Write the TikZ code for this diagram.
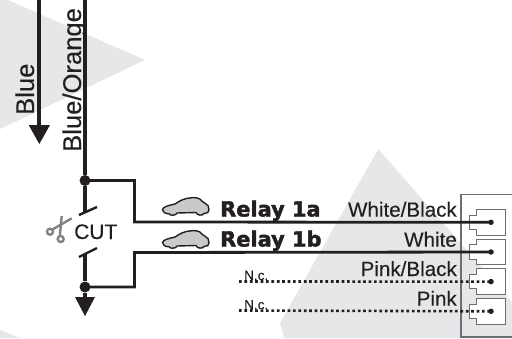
\documentclass[tikz,border=0pt]{standalone}
\usepackage{fontspec}
\setmainfont[FakeBold=0.25]{Liberation Sans}
\newfontfamily\relayfont[FakeBold=2]{DejaVu Sans Bold}
\definecolor{ink}{HTML}{231F20}
\definecolor{bggray}{HTML}{E6E7E8}
\definecolor{carfill}{HTML}{C8C9CB}
\definecolor{midgray}{HTML}{6D6E71}
\definecolor{scissor}{HTML}{808285}
\newcommand{\carshape}[1]{%
  \draw[carline,shift={(150,#1)}]
    (12.5,29.5) .. controls (13,27) and (18,25.5) .. (25,24)
    .. controls (30,20.5) and (35,18) .. (42,17.7)
    .. controls (46,17.5) and (48,18) .. (50,19)
    .. controls (52,21) and (53,22.5) .. (55,23.2)
    .. controls (58,24) and (59,27) .. (59,30)
    .. controls (59,32.5) and (57,33.5) .. (54,33.5)
    .. controls (53,35.8) and (47,35.8) .. (46,32.5)
    -- (27,33)
    .. controls (26,35.8) and (20,35.8) .. (19,33.8)
    .. controls (15,33.8) and (12.5,32) .. (12.5,29.5) -- cycle;}
\newcommand{\jackshape}[2]{%
  \draw[jackline] (505.7,#1) -- (476,#1) -- (476,#1+5.8) -- (469.5,#1+5.8)
    -- (469.5,#1+20) -- (476,#1+20) -- (476,#1+25.8) -- (505.7,#1+25.8) -- cycle;
  \coordinate (#2) at (491,#1+13);}
\tikzset{
  x=1pt,y=-1pt,
  bgshape/.style={fill=bggray,draw=none},
  wire/.style={draw=ink,line width=3.6pt},
  thinwire/.style={draw=ink,line width=2.8pt,line join=miter},
  dotwire/.style={draw=ink,line width=2.6pt,dash pattern=on 2.7pt off 2.7pt},
  contact/.style={draw=ink,line width=2.4pt},
  headtip/.style={fill=ink,draw=none},
  junction/.style={circle,fill=ink,draw=none,minimum size=11pt,inner sep=0pt},
  pindot/.style={circle,fill=ink,draw=none,minimum size=5.5pt,inner sep=0pt},
  carline/.style={fill=carfill,draw=ink,line width=1.4pt},
  jackline/.style={fill=white,draw=midgray,line width=1pt},
  wirelabel/.style={anchor=base east,inner sep=0pt,text=ink,font=\fontsize{20.6}{20}\selectfont},
  sidelabel/.style={anchor=base west,rotate=90,inner sep=0pt,text=ink,font=\fontsize{25.6}{25.6}\selectfont},
  relaylabel/.style={anchor=base west,inner sep=0pt,text=ink,font=\relayfont\fontsize{20.9}{21}\selectfont},
  nclabel/.style={anchor=base west,inner sep=0pt,text=ink,font=\fontsize{13.5}{14}\selectfont},
  scissorline/.style={draw=scissor,line width=2.4pt}
}
\begin{document}
\begin{tikzpicture}
\useasboundingbox (0,0) rectangle (512,338);
% background shapes
\fill[bgshape] (8,0) -- (145,60) -- (0,129) -- (0,0) -- cycle;
\fill[bgshape] (378.3,149) -- (280,323) -- (284,338) -- (512,338) -- (512,302) -- cycle;
\fill[bgshape] (0,330) -- (20,338) -- (0,338) -- cycle;
% connector housing
\draw[midgray,line width=1.2pt] (513,194.7) -- (461,194.7) -- (461,337) -- (513,337);
\jackshape{209.3}{pa}
\jackshape{239}{pb}
\jackshape{268.6}{pc}
\jackshape{298.3}{pd}
% terminals
\node[pindot] (pinA) at (pa) {};
\node[pindot] (pinB) at (pb) {};
\node[pindot] (pinC) at (pc) {};
\node[pindot] (pinD) at (pd) {};
% top wires
\coordinate (blueTop) at (39,-2);
\coordinate (blueEnd) at (39,126);
\coordinate (orangeTop) at (85,-2);
\draw[wire] (blueTop) -- (blueEnd);
\fill[headtip] (28.7,125) -- (50,125) -- (39.3,144) -- cycle;
\node[junction] (jTop) at (85,180.5) {};
\node[junction] (jBot) at (85,287) {};
\coordinate (contactTopL) at (79,215);
\coordinate (contactTopR) at (97,207);
\coordinate (contactBotL) at (79,257);
\coordinate (contactBotR) at (97,248);
\coordinate (contactTopMid) at (85,212);
\coordinate (contactBotMid) at (85,254);
\coordinate (downEnd) at (85,298);
\draw[wire] (orangeTop) -- (jTop) -- (contactTopMid);
\draw[wire] (contactBotMid) -- (jBot) -- (downEnd);
\draw[contact] (contactTopL) -- (contactTopR);
\draw[contact] (contactBotL) -- (contactBotR);
\fill[headtip] (75,297) -- (95,297) -- (85,316) -- cycle;
% branches
\draw[thinwire] (jTop.center) -| (134.5,222) -- (pinA.center);
\draw[thinwire] (jBot.center) -| (134.5,252.5) -- (pinB.center);
\coordinate (ncC) at (239,281.5);
\coordinate (ncD) at (239,310.5);
\draw[dotwire] (ncC) -- (pinC.center);
\draw[dotwire] (ncD) -- (pinD.center);
% cars
\carshape{180}
\carshape{213}
% scissors
\draw[scissorline] (50,231.7) circle (3);
\draw[scissorline] (60.7,239) circle (3);
\draw[scissorline] (52.5,229.5) -- (71.7,218.3);
\draw[scissorline] (59.8,236) -- (61.7,216);
% labels
\node[sidelabel] (tBlue) at (34,115) {Blue};
\node[sidelabel] (tOrange) at (81,152) {Blue/Orange};
\node[inner sep=0pt,anchor=base west,text=ink,font=\fontsize{21}{21}\selectfont] (tCut) at (74,239) {CUT};
\node[relaylabel] (tRa) at (220,216.5) {Relay 1a};
\node[relaylabel] (tRb) at (220,246.5) {Relay 1b};
\node[wirelabel] (tWB) at (457,216.7) {White/Black};
\node[wirelabel] (tW) at (457,246.7) {White};
\node[wirelabel] (tPB) at (457,276) {Pink/Black};
\node[wirelabel] (tP) at (457,305.7) {Pink};
\node[nclabel] (tNa) at (244,280) {N.c.};
\node[nclabel] (tNb) at (244,309.3) {N.c.};
\end{tikzpicture}
\end{document}
